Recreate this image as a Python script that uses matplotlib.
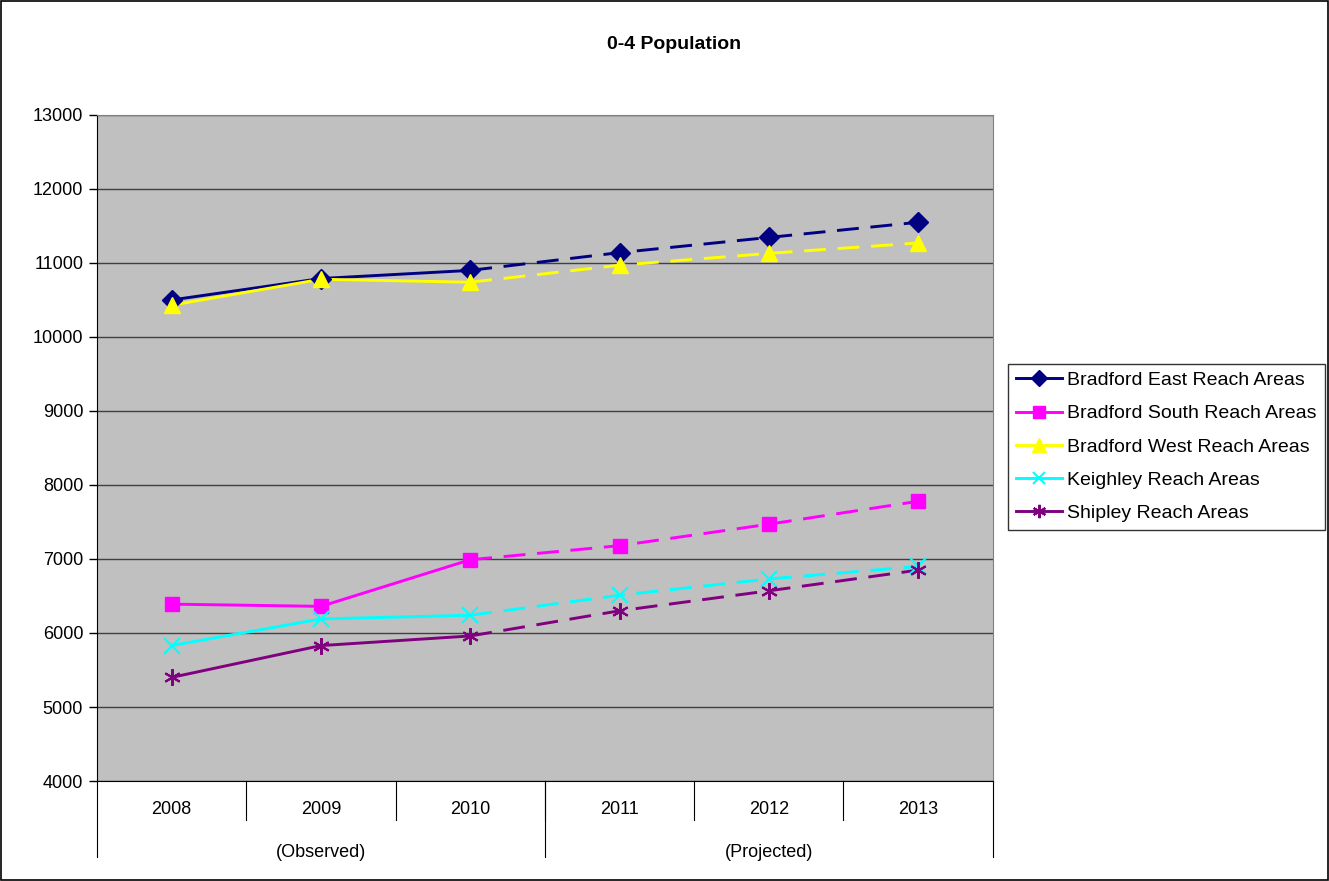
import numpy as np
import matplotlib.pyplot as plt
from matplotlib.lines import Line2D
from matplotlib.patches import Rectangle

plt.rcParams['font.family'] = ['Liberation Sans', 'DejaVu Sans']

years = ['2008', '2009', '2010', '2011', '2012', '2013']
groups = ['(Observed)', '(Projected)']

east = [10500, 10790, 10900, 11140, 11345, 11550]
south = [6390, 6360, 6990, 7180, 7470, 7780]
west = [10430, 10780, 10740, 10970, 11130, 11270]
keighley = [5830, 6190, 6240, 6510, 6730, 6900]
shipley = [5400, 5830, 5960, 6300, 6570, 6850]

names = ['Bradford East Reach Areas', 'Bradford South Reach Areas',
         'Bradford West Reach Areas', 'Keighley Reach Areas', 'Shipley Reach Areas']
series = [east, south, west, keighley, shipley]
colors = ['#000080', '#FF00FF', '#FFFF00', '#00FFFF', '#800080']
markers = ['D', 's', '^', 'x', (6, 2, 0)]
msizes = [10.5, 10.5, 12, 11.5, 12]

fig = plt.figure(figsize=(13.29, 8.81), dpi=100)
ax = fig.add_axes([0.073, 0.1135, 0.674, 0.756])
ax.set_facecolor('#C0C0C0')

x = np.arange(len(years))
handles = []
for vals, c, m, ms, name in zip(series, colors, markers, msizes, names):
    vals = np.array(vals)
    # observed years solid, projected years dashed
    ax.plot(x[:3], vals[:3], color=c, lw=2.1, zorder=3)
    ax.plot(x[2:], vals[2:], color=c, lw=2.1, dashes=(7.5, 4), zorder=3)
    mew = 1.5 if m in ('x', (6, 2, 0)) else 1
    ax.plot(x, vals, ls='none', marker=m, ms=ms, color=c, mec=c, mew=mew, zorder=4)
    handles.append(Line2D([], [], color=c, lw=2.1, marker=m, ms=ms * 0.8,
                          mec=c, mew=mew, label=name))

ax.set_xlim(-0.5, 5.5)
ax.set_ylim(4000, 13000)
ax.set_yticks(range(4000, 13001, 1000))
ax.tick_params(axis='y', labelsize=13, length=6, width=1, pad=4)
ax.yaxis.grid(True, color='#404040', lw=1)
ax.set_axisbelow(True)
ax.set_xticks([])
for side in ['top', 'right']:
    ax.spines[side].set_color('#808080')
ax.spines['left'].set_color('black')
ax.spines['bottom'].set_color('black')

# two-level category axis
for i, yr in enumerate(years):
    ax.text(i, -0.043, yr, transform=ax.get_xaxis_transform(), ha='center',
            va='center', fontsize=13)
for b in np.arange(0.5, 5, 1):
    ax.plot([b, b], [0, -0.059], transform=ax.get_xaxis_transform(),
            color='black', lw=0.8, clip_on=False)
for b in [-0.5, 2.5, 5.5]:
    ax.plot([b, b], [0, -0.114], transform=ax.get_xaxis_transform(),
            color='black', lw=0.8, clip_on=False)
for g, cx in zip(groups, [1, 4]):
    ax.text(cx, -0.107, g, transform=ax.get_xaxis_transform(), ha='center',
            va='center', fontsize=13)

fig.text(0.507, 0.949, '0-4 Population', ha='center', va='center',
         fontsize=14, fontweight='bold')

leg = fig.legend(handles=handles, loc='upper left', bbox_to_anchor=(0.7585, 0.587),
                 fontsize=14, frameon=True, fancybox=False, edgecolor='black',
                 handlelength=2.4, handletextpad=0.25, labelspacing=0.8,
                 borderpad=0.4, borderaxespad=0)
leg.get_frame().set_linewidth(1)

fig.patches.append(Rectangle((0.001, 0.001), 0.998, 0.998, transform=fig.transFigure,
                             fill=False, edgecolor='black', lw=1.2))

fig.savefig('out.png', dpi=100)
